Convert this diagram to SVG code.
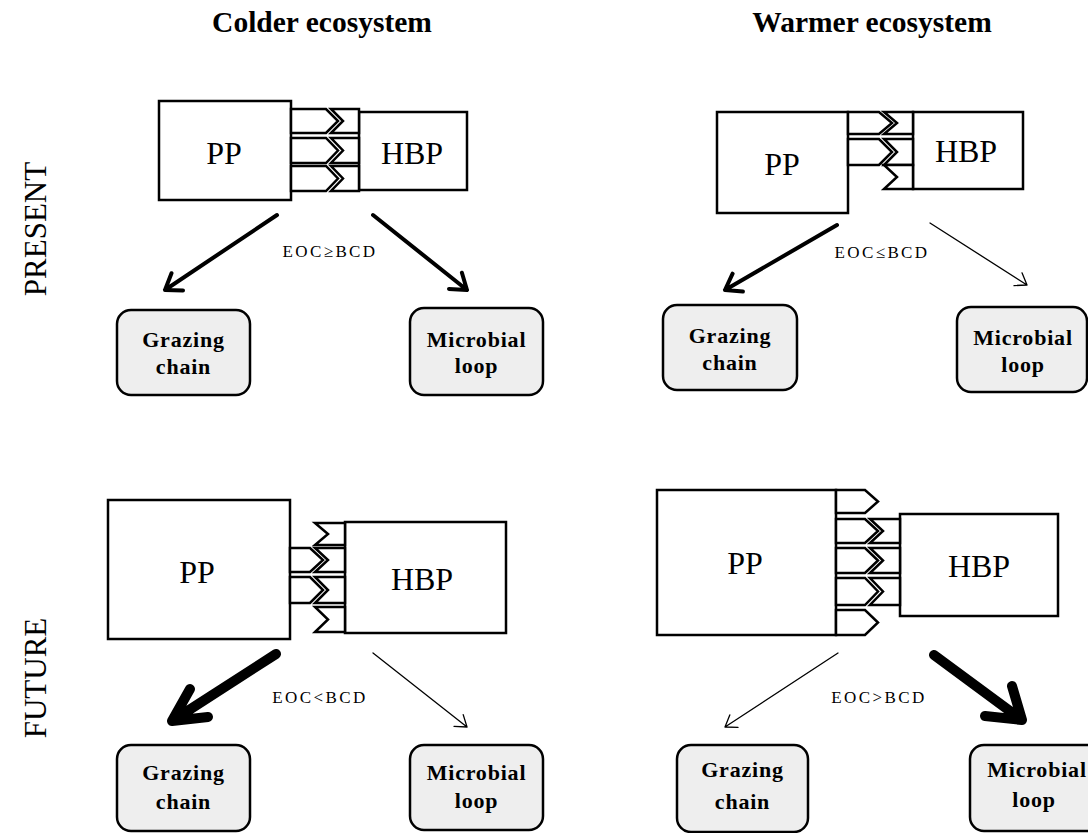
<svg xmlns="http://www.w3.org/2000/svg" width="1088" height="833" viewBox="0 0 1088 833">
<style>
.bg{fill:#ffffff}
.box{fill:#ffffff;stroke:#000;stroke-width:2.5}
.chev{fill:#ffffff;stroke:#000;stroke-width:2.5;stroke-linejoin:miter}
.sink{fill:#eeeeee;stroke:#000;stroke-width:2.5}
.lbl{font-family:"Liberation Serif","DejaVu Serif",serif;font-size:32px;fill:#000;text-anchor:middle}
.sinkt{font-family:"Liberation Serif","DejaVu Serif",serif;font-size:22px;font-weight:bold;letter-spacing:0.8px;fill:#000;text-anchor:middle}
.eoc{font-family:"Liberation Serif","DejaVu Serif",serif;font-size:17px;letter-spacing:2.4px;fill:#000;text-anchor:middle}
.title{font-family:"Liberation Serif","DejaVu Serif",serif;font-size:29.5px;font-weight:bold;fill:#000;text-anchor:middle}
.side{font-family:"Liberation Serif","DejaVu Serif",serif;font-size:31px;fill:#000;text-anchor:middle}
.c{fill:none;stroke:#000;stroke-linecap:round;stroke-linejoin:round}
.w1{stroke-width:1.3}
.w2{stroke-width:4}
.w3{stroke-width:10}
</style>
<rect class="bg" x="0" y="0" width="1088" height="833"/>

<g id="titles">
<text class="title" x="322" y="32">Colder ecosystem</text>
<text class="title" x="872" y="32">Warmer ecosystem</text>
<text class="side" transform="translate(46 229) rotate(-90)">PRESENT</text>
<text class="side" transform="translate(46 678) rotate(-90)">FUTURE</text>
</g>

<!-- Colder / present -->
<g id="pp-colder-present">
<rect class="box" x="159" y="101" width="132" height="99"/>
<text class="lbl" x="224" y="164">PP</text>
</g>
<g id="hbp-colder-present">
<rect class="box" x="359" y="112" width="108" height="78"/>
<text class="lbl" x="412" y="164">HBP</text>
</g>
<g id="flux-colder-present">
<path class="chev" d="M291 109 H326 L338 121 L326 133 H291 Z"/>
<path class="chev" d="M331 109 H359 V133 H331 L343 121 Z"/>
<path class="chev" d="M291 138 H326 L338 150.5 L326 163 H291 Z"/>
<path class="chev" d="M331 138 H359 V163 H331 L343 150.5 Z"/>
<path class="chev" d="M291 166 H326 L338 178.5 L326 191 H291 Z"/>
<path class="chev" d="M331 166 H359 V191 H331 L343 178.5 Z"/>
</g>
<g id="grazing-colder-present">
<rect class="sink" x="117" y="310" width="133" height="85" rx="14"/>
<text class="sinkt" x="183.5" y="347">Grazing</text>
<text class="sinkt" x="183.5" y="374">chain</text>
</g>
<g id="microbial-colder-present">
<rect class="sink" x="410" y="308" width="133" height="87" rx="14"/>
<text class="sinkt" x="476.5" y="347">Microbial</text>
<text class="sinkt" x="476.5" y="373">loop</text>
</g>

<!-- Warmer / present -->
<g id="pp-warmer-present">
<rect class="box" x="717" y="112" width="131" height="101"/>
<text class="lbl" x="782" y="175">PP</text>
</g>
<g id="hbp-warmer-present">
<rect class="box" x="913" y="112" width="110" height="77"/>
<text class="lbl" x="966" y="162">HBP</text>
</g>
<g id="flux-warmer-present">
<path class="chev" d="M848 112 H879 L892 123 L879 134 H848 Z"/>
<path class="chev" d="M884 112 H913 V134 H884 L897 123 Z"/>
<path class="chev" d="M848 139 H879 L892 152 L879 165 H848 Z"/>
<path class="chev" d="M884 139 H913 V165 H884 L897 152 Z"/>
<path class="chev" d="M884 165 H913 V189 H884 L897 177 Z"/>
</g>
<g id="grazing-warmer-present">
<rect class="sink" x="663" y="305" width="134" height="85" rx="14"/>
<text class="sinkt" x="730" y="343">Grazing</text>
<text class="sinkt" x="730" y="370">chain</text>
</g>
<g id="microbial-warmer-present">
<rect class="sink" x="957" y="307" width="130" height="85" rx="14"/>
<text class="sinkt" x="1023" y="345">Microbial</text>
<text class="sinkt" x="1023" y="372">loop</text>
</g>

<!-- Colder / future -->
<g id="pp-colder-future">
<rect class="box" x="108" y="500" width="182" height="139"/>
<text class="lbl" x="197" y="583">PP</text>
</g>
<g id="hbp-colder-future">
<rect class="box" x="345" y="522" width="161" height="111"/>
<text class="lbl" x="422" y="590">HBP</text>
</g>
<g id="flux-colder-future">
<path class="chev" d="M315 523 H345 V545 H315 L328 534 Z"/>
<path class="chev" d="M290 548 H310 L323 560 L310 572 H290 Z"/>
<path class="chev" d="M315 548 H345 V572 H315 L328 560 Z"/>
<path class="chev" d="M290 577 H310 L323 590 L310 603 H290 Z"/>
<path class="chev" d="M315 577 H345 V603 H315 L328 590 Z"/>
<path class="chev" d="M315 607 H345 V632 H315 L328 619.5 Z"/>
</g>
<g id="grazing-colder-future">
<rect class="sink" x="117" y="745" width="133" height="86" rx="14"/>
<text class="sinkt" x="183.5" y="780">Grazing</text>
<text class="sinkt" x="183.5" y="809">chain</text>
</g>
<g id="microbial-colder-future">
<rect class="sink" x="410" y="745" width="133" height="85" rx="14"/>
<text class="sinkt" x="476.5" y="780">Microbial</text>
<text class="sinkt" x="476.5" y="808">loop</text>
</g>

<!-- Warmer / future -->
<g id="pp-warmer-future">
<rect class="box" x="657" y="490" width="179" height="145"/>
<text class="lbl" x="745" y="574">PP</text>
</g>
<g id="hbp-warmer-future">
<rect class="box" x="900" y="514" width="158" height="102"/>
<text class="lbl" x="979" y="577">HBP</text>
</g>
<g id="flux-warmer-future">
<path class="chev" d="M836 490 H865 L878 501.5 L865 513 H836 Z"/>
<path class="chev" d="M836 519 H865 L878 531 L865 543 H836 Z"/>
<path class="chev" d="M870 519 H900 V543 H870 L883 531 Z"/>
<path class="chev" d="M836 548 H865 L878 560.5 L865 573 H836 Z"/>
<path class="chev" d="M870 548 H900 V573 H870 L883 560.5 Z"/>
<path class="chev" d="M836 578 H865 L878 591.5 L865 605 H836 Z"/>
<path class="chev" d="M870 578 H900 V605 H870 L883 591.5 Z"/>
<path class="chev" d="M836 610 H865 L878 622.5 L865 635 H836 Z"/>
</g>
<g id="grazing-warmer-future">
<rect class="sink" x="677" y="745" width="131" height="87" rx="14"/>
<text class="sinkt" x="742.5" y="777">Grazing</text>
<text class="sinkt" x="742.5" y="809">chain</text>
</g>
<g id="microbial-warmer-future">
<rect class="sink" x="970" y="745" width="132" height="86" rx="14"/>
<text class="sinkt" x="1037" y="777">Microbial</text>
<text class="sinkt" x="1034" y="807">loop</text>
</g>

<g id="connectors">
<path class="c w2" d="M277 215 L165 290 M183 290.4 L165 290 L171.5 273.2"/>
<path class="c w2" d="M373 215 L467 290 M449 288.9 L467 290 L461.9 272.7"/>
<path class="c w2" d="M837 225 L725 290 M742.9 291.5 L725 290 L732.6 273.7"/>
<path class="c w1" d="M930 223 L1027 285 M1014 285.6 L1027 285 L1022 272.8"/>
<path class="c w3" d="M276 654 L172 721 M208 717 L172 721 L190 689"/>
<path class="c w1" d="M373 653 L467 727 M454 726.3 L467 727 L463.2 714.6"/>
<path class="c w1" d="M838 653 L725 727 M738 727.4 L725 727 L729.8 714.9"/>
<path class="c w3" d="M934 655 L1022 720 M985 716 L1022 720 L1012 686"/>
</g>

<g id="labels">
<text class="eoc" x="330" y="257">EOC≥BCD</text>
<text class="eoc" x="882" y="258">EOC≤BCD</text>
<text class="eoc" x="320" y="703">EOC&lt;BCD</text>
<text class="eoc" x="879" y="703">EOC&gt;BCD</text>
</g>
</svg>
